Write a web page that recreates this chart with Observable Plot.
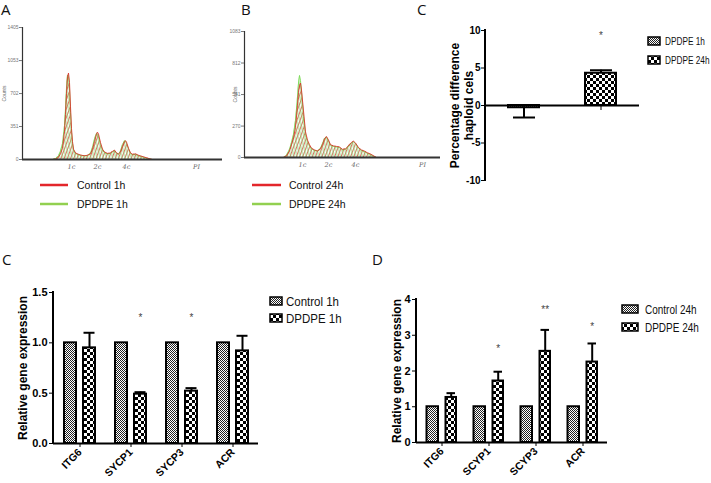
<!DOCTYPE html>
<html>
<head>
<meta charset="utf-8">
<script src="https://cdn.jsdelivr.net/npm/d3@7"></script>
<script src="https://cdn.jsdelivr.net/npm/@observablehq/plot@0.6"></script>
<style>
  html, body { margin: 0; padding: 0; background: #fff; }
  #fig { position: relative; width: 711px; height: 483px; overflow: hidden; background: #fff; font-family: "Liberation Sans", Arial, sans-serif; }
  #fig > svg { position: absolute; }
</style>
</head>
<body>
<div id="fig">
<svg id="overlay" width="711" height="483" style="left:0;top:0;pointer-events:none;z-index:5">
  <defs>
    <pattern id="fine" patternUnits="userSpaceOnUse" width="2" height="2">
      <rect width="2" height="2" fill="#ffffff"/>
      <rect width="1" height="1" fill="#222"/>
      <rect x="1" y="1" width="1" height="1" fill="#222"/>
    </pattern>
    <pattern id="coarse" patternUnits="userSpaceOnUse" width="6" height="6">
      <rect width="6" height="6" fill="#ffffff"/>
      <rect width="3" height="3" fill="#000"/>
      <rect x="3" y="3" width="3" height="3" fill="#000"/>
    </pattern>
    <pattern id="hatchR" patternUnits="userSpaceOnUse" width="3" height="6" patternTransform="rotate(20)">
      <line x1="0.5" y1="0" x2="0.5" y2="6" stroke="#e0574f" stroke-width="0.9"/>
    </pattern>
    <pattern id="hatchG" patternUnits="userSpaceOnUse" width="3" height="6" patternTransform="rotate(-15)">
      <line x1="2" y1="0" x2="2" y2="6" stroke="#86d36a" stroke-width="0.9"/>
    </pattern>
  </defs>
  <g font-family="'Open Sans', 'Liberation Sans', sans-serif" font-size="15" fill="#111">
    <text x="1" y="15">A</text>
    <text x="241" y="15">B</text>
    <text x="417" y="15">C</text>
    <text x="2" y="265">C</text>
    <text x="372" y="265">D</text>
  </g>
  <!-- histogram legends -->
  <g font-family="'Liberation Sans', Arial, sans-serif" font-size="10.5" fill="#111">
    <line x1="40" y1="185" x2="68" y2="185" stroke="#e3262b" stroke-width="2.5"/>
    <text x="77" y="189">Control 1h</text>
    <line x1="40" y1="204" x2="68" y2="204" stroke="#92d050" stroke-width="2.5"/>
    <text x="77" y="208">DPDPE 1h</text>
    <line x1="252" y1="185" x2="281" y2="185" stroke="#e3262b" stroke-width="2.5"/>
    <text x="289" y="189">Control 24h</text>
    <line x1="252" y1="204" x2="281" y2="204" stroke="#92d050" stroke-width="2.5"/>
    <text x="289" y="208">DPDPE 24h</text>
  </g>
  <!-- bar chart legends -->
  <g font-family="'Liberation Sans', Arial, sans-serif" fill="#111">
    <rect x="648" y="37" width="12" height="8" fill="url(#fine)" stroke="#000" stroke-width="1.5"/>
    <text transform="translate(665,45) scale(0.75,1)" font-size="11">DPDPE 1h</text>
    <rect x="648" y="56" width="12" height="8" fill="url(#coarse)" stroke="#000" stroke-width="1.5"/>
    <text transform="translate(665,64) scale(0.75,1)" font-size="11">DPDPE 24h</text>

    <rect x="270" y="297" width="12" height="8" fill="url(#fine)" stroke="#000" stroke-width="1.5"/>
    <text transform="translate(286,305.5) scale(0.92,1)" font-size="12.5">Control 1h</text>
    <rect x="270" y="314" width="12" height="8" fill="url(#coarse)" stroke="#000" stroke-width="1.5"/>
    <text transform="translate(286,322.5) scale(0.92,1)" font-size="12.5">DPDPE 1h</text>

    <rect x="622" y="305" width="16" height="8" fill="url(#fine)" stroke="#000" stroke-width="1.5"/>
    <text transform="translate(645,313.5) scale(0.8,1)" font-size="12.5">Control 24h</text>
    <rect x="622" y="323" width="16" height="8" fill="url(#coarse)" stroke="#000" stroke-width="1.5"/>
    <text transform="translate(645,331.5) scale(0.8,1)" font-size="12.5">DPDPE 24h</text>
  </g>
</svg>
</div>
<script>
// ---------------- DATA ----------------
// Panel A: flow cytometry histogram (1h)
const histAChannel   = [30,33,36,38,40,42,43,44,45,46,47,48,49,50,51,53,56,59,62,65,68,70,72,74,75,76,78,80,82,85,88,90,92,94,96,98,100,102,103,104,106,108,110,113,116,119,122,125,128,130];
const histAControl1h = [0,5,25,60,120,300,480,700,880,920,820,560,330,190,110,70,55,45,40,45,60,110,190,270,290,270,180,110,80,65,70,85,100,70,60,80,140,190,200,185,120,70,55,60,45,35,25,15,5,0];
const histADPDPE1h   = [0,10,40,90,170,360,540,760,900,880,760,500,290,170,100,65,50,40,40,40,70,130,220,280,270,240,160,100,70,60,65,80,95,65,55,90,160,200,195,170,110,65,50,55,40,30,20,10,3,0];
const histATicks = [0, 351, 702, 1053, 1405];
const histAPeakChannels = [49, 75, 104, 174];

// Panel B: flow cytometry histogram (24h)
const histBChannel    = [39,42,45,47,49,51,53,54,55,56,57,59,61,63,65,67,70,73,76,78,80,82,84,86,89,92,95,98,101,104,107,109,111,114,117,120,123,126,129,132];
const histBControl24h = [0,15,55,110,170,260,450,560,620,640,580,400,220,150,110,80,65,55,75,110,160,180,150,110,100,95,90,70,75,100,130,140,125,85,65,55,40,30,15,0];
const histBDPDPE24h   = [0,20,70,130,200,320,520,640,705,660,560,350,190,135,100,75,60,55,80,120,165,175,140,105,95,90,85,65,70,95,125,135,120,80,60,50,35,25,10,0];
const histBTicks = [0, 270, 541, 812, 1083];
const histBPeakChannels = [58, 84, 111, 178];
const histPeakLabels = ["1c", "2c", "4c", "PI"];

// Panel C (top): percentage difference haploid cells
const haploidGroups = ["DPDPE 1h", "DPDPE 24h"];
const haploidValues = [-0.3, 4.3];
const haploidSem    = [1.3, 0.4];
const haploidStar   = ["", "*"];
const haploidStarY  = [null, 9.3];
const haploidTicks  = [-10, -5, 0, 5, 10];

// Panel C (bottom): relative gene expression 1h
const genes1h      = ["ITG6", "SYCP1", "SYCP3", "ACR"];
const control1h    = [1, 1, 1, 1];
const dpdpe1h      = [0.95, 0.49, 0.52, 0.92];
const dpdpe1hSem   = [0.15, 0.02, 0.03, 0.15];
const stars1h      = ["", "*", "*", ""];
const stars1hY     = [null, 1.25, 1.25, null];
const ticks1h      = [0, 0.5, 1.0, 1.5];

// Panel D: relative gene expression 24h
const genes24h     = ["ITG6", "SCYP1", "SCYP3", "ACR"];
const control24h   = [1, 1, 1, 1];
const dpdpe24h     = [1.26, 1.72, 2.55, 2.25];
const dpdpe24hSem  = [0.12, 0.26, 0.60, 0.52];
const stars24h     = ["", "*", "**", "*"];
const stars24hY    = [null, 2.62, 3.72, 3.25];
const ticks24h     = [0, 1, 2, 3, 4];

// ---------------- HELPERS ----------------
const fig = document.getElementById("fig");
const baseStyle = {background: "transparent", overflow: "visible", fontFamily: "'Liberation Sans', Arial, sans-serif", color: "#000"};

function place(svg, left, top) {
  svg.style.left = left + "px";
  svg.style.top = top + "px";
  svg.style.position = "absolute";
  fig.insertBefore(svg, document.getElementById("overlay"));
}

// vertical axis line on the left edge of the frame
function leftAxisLine(strokeWidth, stroke = "#000") {
  return function (index, scales, values, dimensions) {
    const {marginLeft, marginTop, marginBottom, height} = dimensions;
    const l = document.createElementNS("http://www.w3.org/2000/svg", "line");
    l.setAttribute("x1", marginLeft);
    l.setAttribute("x2", marginLeft);
    l.setAttribute("y1", marginTop - strokeWidth / 2);
    l.setAttribute("y2", height - marginBottom + strokeWidth / 2);
    l.setAttribute("stroke", stroke);
    l.setAttribute("stroke-width", strokeWidth);
    return l;
  };
}

// ---------------- HISTOGRAMS ----------------
function histogram({channel, ctrl, dp, ticks, peaks, yMax, xMax, width, height, mL, mR, mT, mB, countsDx}) {
  const rows = channel.map((c, i) => ({ch: c, ctrl: ctrl[i], dp: dp[i]}));
  const labelMap = new Map(peaks.map((p, i) => [p, histPeakLabels[i]]));
  return Plot.plot({
    width, height, marginLeft: mL, marginRight: mR, marginTop: mT, marginBottom: mB,
    style: baseStyle,
    x: {domain: [0, xMax]},
    y: {domain: [0, yMax]},
    marks: [
      Plot.areaY(rows, {x: "ch", y: "ctrl", fill: "url(#hatchR)"}),
      Plot.areaY(rows, {x: "ch", y: "dp", fill: "url(#hatchG)"}),
      Plot.lineY(rows, {x: "ch", y: "dp", stroke: "#7fdc5c", strokeWidth: 1}),
      Plot.lineY(rows, {x: "ch", y: "ctrl", stroke: "#d9342c", strokeWidth: 0.9}),
      Plot.ruleY([0], {stroke: "#333", strokeWidth: 2}),
      Plot.ruleX([0], {stroke: "#333", strokeWidth: 1.2}),
      Plot.axisY({ticks, tickFormat: (d) => String(d), tickSize: 3, tickPadding: 1, fontSize: 5, color: "#777", label: null}),
      Plot.axisX({ticks: peaks, tickFormat: (d) => labelMap.get(d), tickSize: 0, tickPadding: 5, fontSize: 6.5, fontStyle: "italic", fontFamily: "'DejaVu Serif', serif", color: "#666", label: null}),
      Plot.text(["Counts"], {text: (d) => d, frameAnchor: "left", textAnchor: "middle", rotate: -90, dx: countsDx, fontSize: 5, fill: "#666"})
    ]
  });
}

place(histogram({channel: histAChannel, ctrl: histAControl1h, dp: histADPDPE1h, ticks: histATicks, peaks: histAPeakChannels,
  yMax: 1405, xMax: 200, width: 224, height: 175, mL: 22, mR: 2, mT: 27, mB: 16, countsDx: -18.5}), 0, 0);

place(histogram({channel: histBChannel, ctrl: histBControl24h, dp: histBDPDPE24h, ticks: histBTicks, peaks: histBPeakChannels,
  yMax: 1083, xMax: 196, width: 222, height: 175, mL: 22, mR: 4, mT: 31, mB: 18, countsDx: -9.3}), 222, 0);

// ---------------- PANEL C TOP ----------------
{
  const rows = haploidGroups.map((g, i) => ({
    g, v: haploidValues[i], end: haploidValues[i] < 0 ? haploidValues[i] - haploidSem[i] : haploidValues[i] + haploidSem[i],
    star: haploidStar[i], starY: haploidStarY[i], fill: i === 0 ? "url(#fine)" : "url(#coarse)"
  }));
  const svg = Plot.plot({
    width: 271, height: 200, marginLeft: 45, marginRight: 72, marginTop: 30, marginBottom: 20,
    style: baseStyle,
    x: {domain: haploidGroups, paddingInner: 0.6, paddingOuter: 0.3, axis: null},
    y: {domain: [-10, 10]},
    marks: [
      Plot.barY(rows, {x: "g", y: "v", fill: (d) => d.fill, stroke: "#000", strokeWidth: 2}),
      Plot.ruleX(rows, {x: "g", y1: "v", y2: "end", stroke: "#000", strokeWidth: 2}),
      Plot.tickY(rows, {x: "g", y: "end", stroke: "#000", strokeWidth: 2, insetLeft: 5, insetRight: 4}),
      Plot.ruleX(rows, {x: "g", y1: 0, y2: 0, insetBottom: -5, stroke: "#000", strokeWidth: 1}),
      Plot.ruleY([0], {stroke: "#000", strokeWidth: 2}),
      leftAxisLine(2),
      Plot.axisY({ticks: haploidTicks, tickFormat: (d) => String(d), tickSize: 4, tickPadding: 1, fontSize: 10, fontWeight: "bold", label: null}),
      Plot.text(rows.filter((d) => d.star), {x: "g", y: "starY", text: "star", fontSize: 10, fill: "#444"}),
      Plot.text(["Percentage difference\nhaploid cels"], {text: (d) => d, frameAnchor: "left", textAnchor: "middle", rotate: -90, dx: -24, fontSize: 12, fontWeight: "bold", lineHeight: 1.2})
    ]
  });
  place(svg, 440, 0);
}

// ---------------- GROUPED BAR CHARTS ----------------
function grouped({genes, ctrl, dp, sem, stars, starsY, ticks, fmt, width, height, mL, mR, mT, mB,
                  cIns, dIns, capIns, dDx, labelDx, labelSize}) {
  const rows = genes.map((g, i) => ({g, c: ctrl[i], d: dp[i], top: dp[i] + sem[i], star: stars[i], starY: starsY[i]}));
  return Plot.plot({
    width, height, marginLeft: mL, marginRight: mR, marginTop: mT, marginBottom: mB,
    style: baseStyle,
    x: {domain: genes, padding: 0},
    y: {domain: [ticks[0], ticks[ticks.length - 1]]},
    marks: [
      Plot.barY(rows, {x: "g", y: "c", fill: "url(#fine)", stroke: "#000", strokeWidth: 2, insetLeft: cIns[0], insetRight: cIns[1]}),
      Plot.ruleX(rows, {x: "g", y1: "d", y2: "top", dx: dDx, stroke: "#000", strokeWidth: 2}),
      Plot.tickY(rows, {x: "g", y: "top", stroke: "#000", strokeWidth: 2, insetLeft: capIns[0], insetRight: capIns[1]}),
      Plot.barY(rows, {x: "g", y: "d", fill: "url(#coarse)", stroke: "#000", strokeWidth: 2, insetLeft: dIns[0], insetRight: dIns[1]}),
      Plot.text(rows.filter((d) => d.star), {x: "g", y: "starY", text: "star", dx: dDx, fontSize: 10, fill: "#444"}),
      Plot.ruleY([ticks[0]], {stroke: "#000", strokeWidth: 2}),
      leftAxisLine(2),
      Plot.axisY({ticks, tickFormat: fmt, tickSize: 4, tickPadding: 2, fontSize: 11, fontWeight: "bold", label: null}),
      Plot.axisX({tickSize: 4, tickPadding: 3, tickRotate: -45, fontSize: 10.5, fontWeight: "bold", label: null}),
      Plot.text(["Relative gene expression"], {text: (d) => d, frameAnchor: "left", textAnchor: "middle", rotate: -90, dx: labelDx, fontSize: labelSize, fontWeight: "bold"})
    ]
  });
}

place(grouped({genes: genes1h, ctrl: control1h, dp: dpdpe1h, sem: dpdpe1hSem, stars: stars1h, starsY: stars1hY,
  ticks: ticks1h, fmt: d3.format(".1f"), width: 270, height: 233, mL: 53, mR: 12, mT: 42, mB: 40,
  cIns: [10, 29], dIns: [29, 10], capIns: [29.5, 10.5], dDx: 9.5, labelDx: -30, labelSize: 12}), 0, 250);

place(grouped({genes: genes24h, ctrl: control24h, dp: dpdpe24h, sem: dpdpe24hSem, stars: stars24h, starsY: stars24hY,
  ticks: ticks24h, fmt: (d) => String(d), width: 341, height: 233, mL: 46, mR: 104, mT: 49, mB: 41,
  cIns: [8.5, 27], dIns: [27.5, 9], capIns: [28.5, 10], dDx: 9.2, labelDx: -19, labelSize: 12}), 370, 250);
</script>
</body>
</html>
